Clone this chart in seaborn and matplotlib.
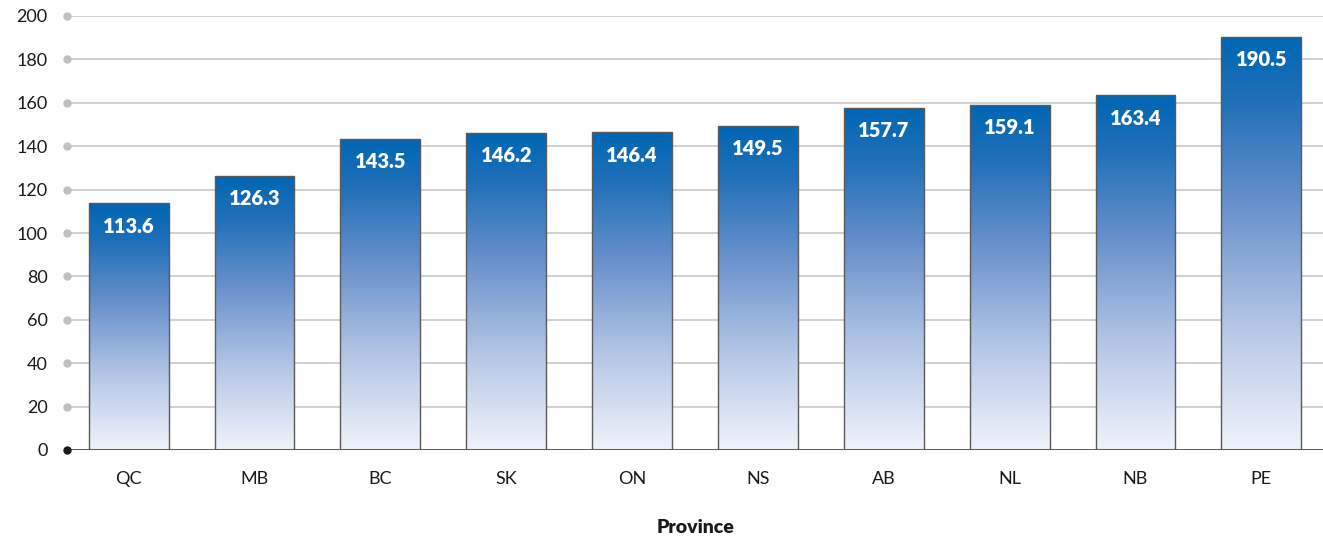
import numpy as np
import pandas as pd
import matplotlib.pyplot as plt
import seaborn as sns
from matplotlib.colors import LinearSegmentedColormap

provinces = ['QC', 'MB', 'BC', 'SK', 'ON', 'NS', 'AB', 'NL', 'NB', 'PE']
values = [113.6, 126.3, 143.5, 146.2, 146.4, 149.5, 157.7, 159.1, 163.4, 190.5]
yticks = [0, 20, 40, 60, 80, 100, 120, 140, 160, 180, 200]

df = pd.DataFrame({'Province': provinces, 'value': values})

sns.set_style('white')
plt.rcParams['font.family'] = ['Lato', 'DejaVu Sans']

fig = plt.figure(figsize=(13.23, 5.37), dpi=100)
ax = fig.add_axes([67 / 1323, 1 - 450 / 537, 1 - 67 / 1323, 434 / 537])

sns.barplot(data=df, x='Province', y='value', ax=ax, width=0.635,
            color='#2a6db5', edgecolor='#5a5a5a', linewidth=1.0, zorder=3)

# gradient fill, dark blue at top fading to near white at the bottom
cmap = LinearSegmentedColormap.from_list(
    'grad', [(0.0, '#f0f3fb'), (0.3, '#b4c6e6'), (0.6, '#6790cb'),
             (0.85, '#1f6fb8'), (1.0, '#0066b3')])
grad = np.linspace(0, 1, 256).reshape(-1, 1)
for p in ax.patches:
    x0, w, h = p.get_x(), p.get_width(), p.get_height()
    p.set_facecolor('none')
    im = ax.imshow(grad, cmap=cmap, origin='lower', aspect='auto',
                   extent=[x0, x0 + w, 0, h], zorder=2)
    im.set_clip_path(p)
    ax.text(x0 + w / 2, h - 10.5, f'{h:.1f}', ha='center', va='center',
            color='white', fontsize=14.5, fontweight='heavy', zorder=5)

ax.set_yticks(yticks)
for t in yticks[1:]:
    ax.axhline(t, color='#c8c8c8', lw=1.2, zorder=1)
ax.plot([-0.49] * (len(yticks) - 1), yticks[1:], 'o', color='#c0c0c0',
        ms=5, clip_on=False, zorder=4)
ax.plot([-0.49], [0], 'o', color='#1a1a1a', ms=5, clip_on=False, zorder=6)
ax.axhline(0, color='#4a4a4a', lw=2, zorder=4)

for s in ['top', 'right', 'left', 'bottom']:
    ax.spines[s].set_visible(False)
ax.tick_params(axis='y', length=0, pad=14, labelsize=13, labelcolor='#1a1a1a')
ax.tick_params(axis='x', length=0, pad=15, labelsize=13, labelcolor='#1a1a1a')
ax.set_ylabel('')
ax.set_xlabel('Province', fontsize=14, fontweight='heavy', labelpad=23,
              color='#1a1a1a')
ax.set_xlim(-0.49, 9.49)
ax.set_ylim(0, 200)

fig.savefig('out.png', dpi=100)
